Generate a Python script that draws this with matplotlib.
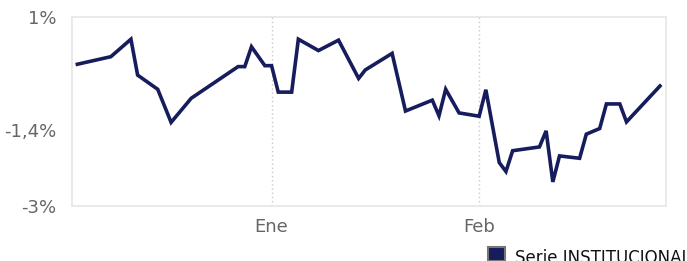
import numpy as np
import pandas as pd
import matplotlib
matplotlib.use("Agg")
import matplotlib.pyplot as plt
import matplotlib.dates as mdates
from matplotlib.patches import Rectangle

# daily series (day offset from 1 Jan, value in %)
day_offsets = [-29, -24, -21, -20, -17, -15, -12, -5, -4, -3, -1, 0, 1, 3, 4, 7, 10, 13, 14,
               18, 20, 24, 25, 26, 28, 31, 32, 34, 35, 36, 40, 41, 42, 43, 46, 47, 49, 50, 52, 53, 58]
values = [0.0, 0.16, 0.53, -0.23, -0.53, -1.23, -0.72, -0.05, -0.05, 0.37, -0.03, -0.03, -0.59,
          -0.59, 0.53, 0.29, 0.51, -0.30, -0.12, 0.23, -0.99, -0.76, -1.09, -0.53, -1.03, -1.10,
          -0.54, -2.08, -2.27, -1.83, -1.75, -1.41, -2.49, -1.94, -1.99, -1.48, -1.36, -0.84,
          -0.84, -1.22, -0.46]
y_ticks = [1, -1.4, -3]
y_tick_labels = ["1%", "-1,4%", "-3%"]
x_ticks = ["2021-01-01", "2021-02-01"]
x_tick_labels = ["Ene", "Feb"]
series_name = "Serie INSTITUCIONAL"

start = pd.Timestamp("2021-01-01")
dates = [start + pd.Timedelta(days=d) for d in day_offsets]

fig = plt.figure(figsize=(6.87, 2.61), dpi=100)
ax = fig.add_axes([72/687, 1-206/261, (666-72)/687, (206-17)/261])

line_col = "#161c5c"
ax.plot(dates, values, color=line_col, lw=2.6, solid_joinstyle="miter")

ax.set_ylim(-3, 1)
ax.set_xlim(start + pd.Timedelta(days=-29.8), start + pd.Timedelta(days=58.9))
ax.set_yticks(y_ticks)
ax.set_yticklabels(y_tick_labels)
ax.set_xticks([pd.Timestamp(t) for t in x_ticks])
ax.set_xticklabels(x_tick_labels)
ax.tick_params(length=0, labelsize=13, colors="#666666")
ax.tick_params(axis="y", pad=11)
ax.tick_params(axis="x", pad=9)
ax.grid(axis="x", color="#c8c8c8", ls=(0, (1, 2)), lw=1)
for s in ax.spines.values():
    s.set_color("#e6e6e6")
    s.set_linewidth(1.2)

# legend at the bottom right
fig.patches.append(Rectangle((488/687, 0), 17/687, 14/261, transform=fig.transFigure,
                             facecolor=line_col, edgecolor="#777777", lw=1.5))
fig.text(515/687, 1-249/261, series_name, fontsize=12, color="#111111", va="top", ha="left")

fig.savefig("out.png", dpi=100)
